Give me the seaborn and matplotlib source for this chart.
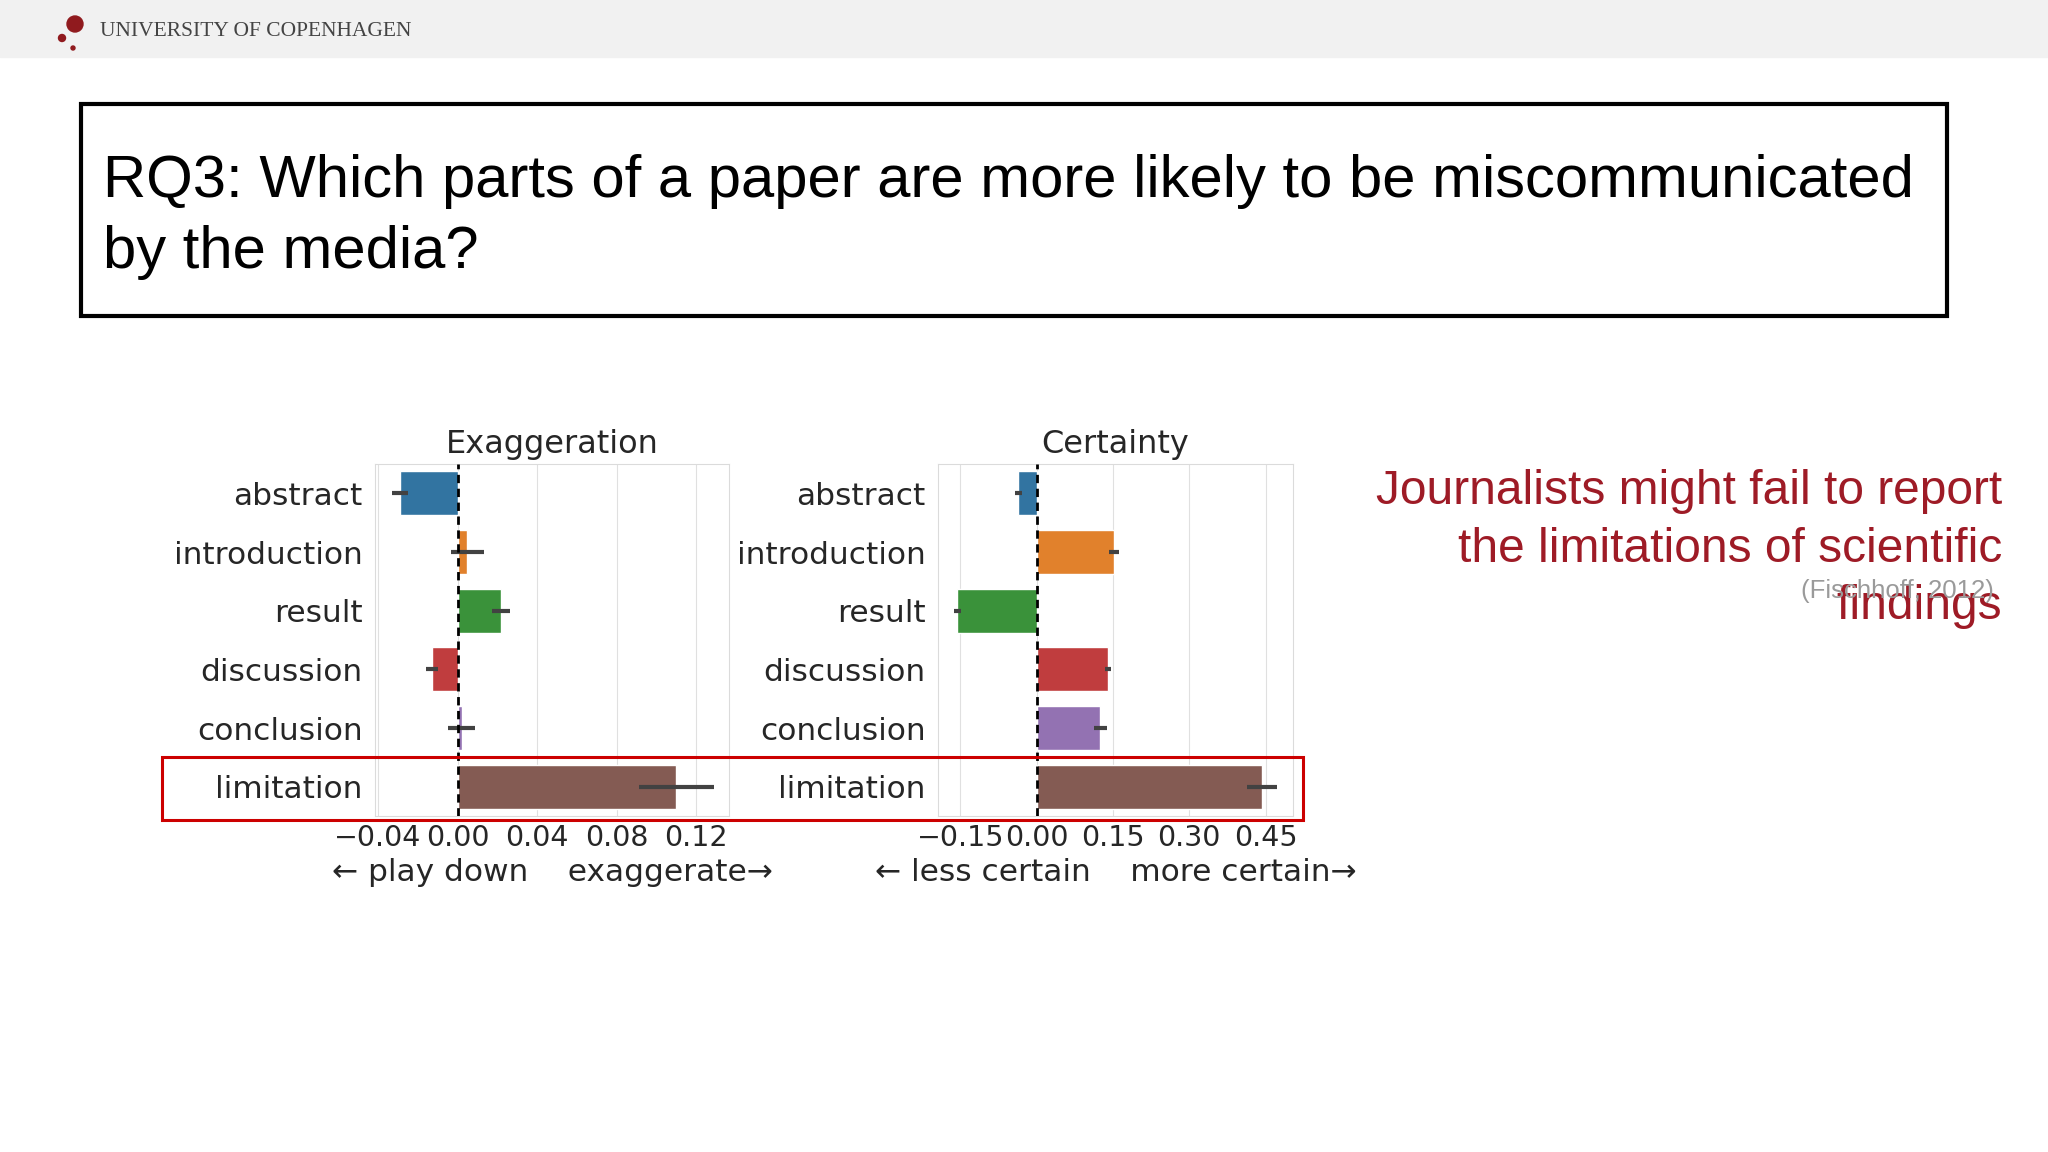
import numpy as np
import pandas as pd
import matplotlib
matplotlib.use('Agg')
import matplotlib.pyplot as plt
import matplotlib.patches as patches
import seaborn as sns

sections = ['abstract', 'introduction', 'result', 'discussion', 'conclusion', 'limitation']
exag = [-0.029, 0.005, 0.022, -0.013, 0.002, 0.110]
exag_err = [0.004, 0.0085, 0.0045, 0.003, 0.007, 0.019]
cert = [-0.036, 0.152, -0.156, 0.140, 0.125, 0.443]
cert_err = [0.0075, 0.010, 0.007, 0.006, 0.013, 0.029]

exag_ticks = [-0.04, 0.00, 0.04, 0.08, 0.12]
cert_ticks = [-0.15, 0.00, 0.15, 0.30, 0.45]

title_text = 'RQ3: Which parts of a paper are more likely to be miscommunicated\nby the media?'
side_text = 'Journalists might fail to report\nthe limitations of scientific\nfindings'
cite_text = '(Fischhoff, 2012)'
header_text = 'UNIVERSITY OF COPENHAGEN'

sns.set_style('whitegrid', {'axes.edgecolor': '.86', 'grid.color': '.88'})
plt.rcParams['font.family'] = ['DejaVu Sans']

W, H = 2048, 1152
fig = plt.figure(figsize=(W / 100, H / 100), dpi=100)

# header band + logo
fig.patches.append(patches.Rectangle((0, 1 - 57 / H), 1, 57 / H, transform=fig.transFigure,
                                     color='#f1f1f1', zorder=0))
for cx, cy, r in [(75, 24, 8), (62, 38, 3.5), (73, 48, 2)]:
    fig.patches.append(patches.Ellipse((cx / W, 1 - cy / H), 2 * r / W, 2 * r / H,
                                       transform=fig.transFigure, color='#901a1e', zorder=1))
fig.text(100 / W, 1 - 31 / H, header_text, family='Liberation Serif',
         fontsize=15.5, color='#444444', ha='left', va='center')

# title box
fig.patches.append(patches.Rectangle((81 / W, 1 - 316 / H), 1866 / W, 212 / H,
                                     transform=fig.transFigure, fill=False,
                                     ec='black', lw=3))
fig.text(103 / W, 1 - 217 / H, title_text, family='Liberation Sans',
         fontsize=43, color='black', ha='left', va='center', linespacing=1.37)

# side text
fig.text(2002 / W, 1 - 549 / H, side_text, family='Liberation Sans',
         fontsize=34.5, color='#9e1b26', ha='right', va='center',
         multialignment='right', linespacing=1.36)
fig.text(1994 / W, 1 - 591 / H, cite_text, family='Liberation Sans',
         fontsize=18.5, color='#9a9a9a', ha='right', va='center')

df = pd.DataFrame({'section': sections, 'exag': exag, 'cert': cert})

ax1 = fig.add_axes([375 / W, 1 - 816 / H, 354 / W, 352 / H])
ax2 = fig.add_axes([938 / W, 1 - 816 / H, 355 / W, 352 / H])

panels = [
    (ax1, 'exag', exag, exag_err, exag_ticks, (-0.0415, 0.1365), 'Exaggeration',
     '\u2190 play down    exaggerate\u2192'),
    (ax2, 'cert', cert, cert_err, cert_ticks, (-0.194, 0.504), 'Certainty',
     '\u2190 less certain    more certain\u2192'),
]

for ax, col, vals, errs, ticks, lims, title, xlab in panels:
    sns.barplot(data=df, x=col, y='section', hue='section', palette='tab10',
                legend=False, orient='h', errorbar=None, width=0.75, ax=ax)
    ax.errorbar(vals, np.arange(len(sections)), xerr=errs, fmt='none',
                ecolor='#424242', elinewidth=3, capsize=0, zorder=4)
    ax.axvline(0, color='black', ls=(0, (3, 2)), lw=2, zorder=5)
    ax.set_xlim(*lims)
    ax.set_ylim(len(sections) - 0.5, -0.5)
    ax.set_xticks(ticks)
    ax.grid(axis='y', visible=False)
    ax.set_title(title, fontsize=23, color='#262626', pad=8)
    ax.set_xlabel(xlab, fontsize=22.5, color='#262626', labelpad=4)
    ax.set_ylabel('')
    ax.tick_params(axis='y', labelsize=22.5, colors='#262626', length=0, pad=9)
    ax.tick_params(axis='x', labelsize=20.5, colors='#262626', length=0, pad=6)

# highlight box round the limitation row
fig.patches.append(patches.Rectangle((162 / W, 1 - 820 / H), 1141 / W, 63 / H,
                                     transform=fig.transFigure, fill=False,
                                     ec='#cc0000', lw=2.2, zorder=10))

fig.savefig('out.png', dpi=100, facecolor='white')
